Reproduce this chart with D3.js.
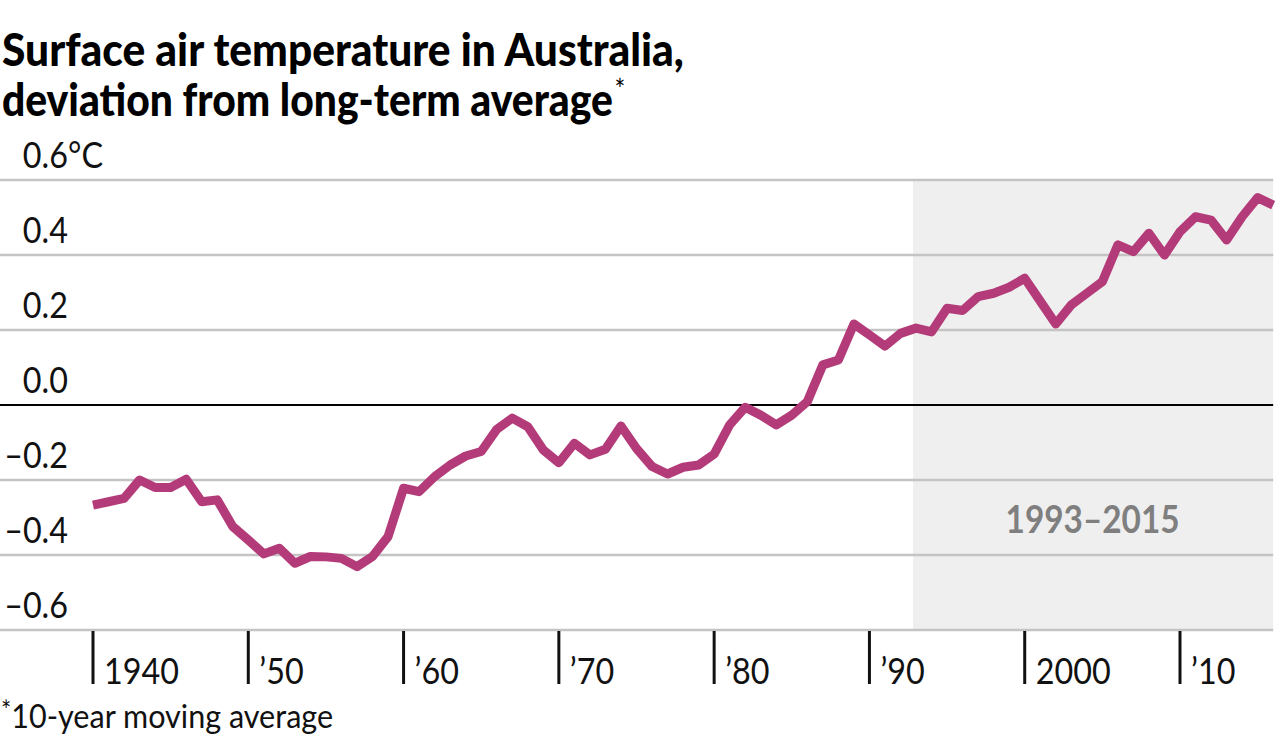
<!DOCTYPE html>
<html>
<head>
<meta charset="utf-8">
<script src="https://cdn.jsdelivr.net/npm/d3@7"></script>
<style>
  html, body { margin: 0; padding: 0; background: #fff; }
  svg { display: block; }
  text { font-family: Lato, "Open Sans", sans-serif; }
</style>
</head>
<body>
<svg id="chart" width="1280" height="741"></svg>
<script>
// ---- data ----
const years = d3.range(1940, 2017);
const anomaly = [
  -0.267, -0.258, -0.249, -0.200, -0.220, -0.220, -0.198, -0.258, -0.253, -0.324,
  -0.360, -0.397, -0.382, -0.422, -0.404, -0.405, -0.409, -0.431, -0.404, -0.351,
  -0.222, -0.231, -0.191, -0.160, -0.136, -0.124, -0.065, -0.035, -0.058, -0.120,
  -0.154, -0.102, -0.133, -0.118, -0.056, -0.116, -0.164, -0.184, -0.166, -0.160,
  -0.131, -0.053, -0.006, -0.027, -0.053, -0.027,  0.009,  0.107,  0.120,  0.216,
   0.187,  0.157,  0.191,  0.205,  0.195,  0.258,  0.252,  0.289,  0.298,  0.314,
   0.338,  0.277,  0.216,  0.267,  0.298,  0.329,  0.427,  0.409,  0.458,  0.400,
   0.462,  0.502,  0.493,  0.440,  0.502,  0.553,  0.533
];
const yTicks = [0.6, 0.4, 0.2, 0.0, -0.2, -0.4, -0.6];
const yTickLabels = ["0.6", "0.4", "0.2", "0.0", "\u20130.2", "\u20130.4", "\u20130.6"];
const xTicks = [1940, 1950, 1960, 1970, 1980, 1990, 2000, 2010];
const xTickLabels = ["1940", "\u201950", "\u201960", "\u201970", "\u201980", "\u201990", "2000", "\u201910"];
const highlight = [1993, 2016];
const highlightLabel = "1993\u20132015";
const titleLines = ["Surface air temperature in Australia,", "deviation from long-term average"];
const footnote = "10-year moving average";

// ---- scales ----
const x = d3.scaleLinear().domain([1940, 2010]).range([93, 1180]);
const y = d3.scaleLinear().domain([-0.6, 0.6]).range([630, 180]);
const gridRight = x(2016);

const svg = d3.select("#chart");

// helper: condensed text via horizontal scale
function condText(parent, px, py, sx) {
  return parent.append("text")
    .attr("transform", `translate(${px},${py}) scale(${sx},1)`);
}
function measure(str, size, weight) {
  const tmp = svg.append("text").attr("font-size", size).attr("font-weight", weight || "normal").text(str);
  const w = tmp.node().getComputedTextLength();
  tmp.remove();
  return w;
}

const labelSize = 37;
const labelWeight = 400;
const labelSx = 75 / measure("1940", labelSize, labelWeight);

// highlight band
svg.append("rect")
  .attr("x", x(highlight[0]) - 3)
  .attr("y", y(0.6))
  .attr("width", x(highlight[1]) - x(highlight[0]) + 3)
  .attr("height", y(-0.6) - y(0.6))
  .attr("fill", "#efefef");

const hlSize = 38;
const hlSx = 174 / measure(highlightLabel, hlSize, "bold");
condText(svg, (x(highlight[0]) + x(highlight[1])) / 2 - 2, 533, hlSx)
  .attr("text-anchor", "middle")
  .attr("fill", "#7f7f7f")
  .attr("font-weight", "bold")
  .attr("font-size", hlSize)
  .text(highlightLabel);

// gridlines
svg.append("g").selectAll("line")
  .data(yTicks)
  .join("line")
  .attr("x1", 0).attr("x2", gridRight)
  .attr("y1", d => y(d)).attr("y2", d => y(d))
  .attr("stroke", d => d === 0 ? "#000" : "#c4c4c4")
  .attr("stroke-width", d => d === 0 ? 2.2 : 2.5);

// y labels
const yl = svg.append("g");
yTicks.forEach((d, i) => {
  condText(yl, 68, y(d) - 12, labelSx)
    .attr("text-anchor", "end")
    .attr("font-size", labelSize)
    .attr("font-weight", labelWeight)
    .attr("fill", "#111")
    .text(yTickLabels[i]);
});
condText(yl, 68, y(0.6) - 12, labelSx)
  .attr("font-size", labelSize)
  .attr("font-weight", labelWeight)
  .attr("fill", "#111")
  .text("\u00B0C");

// x axis ticks
const xa = svg.append("g");
xa.selectAll("line")
  .data(xTicks)
  .join("line")
  .attr("x1", d => x(d)).attr("x2", d => x(d))
  .attr("y1", y(-0.6) + 1).attr("y2", y(-0.6) + 54)
  .attr("stroke", "#111")
  .attr("stroke-width", 3);
xTicks.forEach((d, i) => {
  condText(xa, x(d) + 11, 684, labelSx)
    .attr("font-size", labelSize)
    .attr("font-weight", labelWeight)
    .attr("fill", "#111")
    .text(xTickLabels[i]);
});

// line
const line = d3.line()
  .x((d, i) => x(years[i]))
  .y(d => y(d));
svg.append("path")
  .datum(anomaly)
  .attr("d", line)
  .attr("fill", "none")
  .attr("stroke", "#b43b79")
  .attr("stroke-width", 9)
  .attr("stroke-linejoin", "round")
  .attr("stroke-linecap", "butt");

// title
const titleSize = 45;
const titleSx1 = 682 / measure(titleLines[0], titleSize, 900);
const titleSx2 = 611 / measure(titleLines[1], titleSize, 900);
const t = svg.append("g");
condText(t, 2, 66, titleSx1)
  .attr("font-size", titleSize).attr("font-weight", 900).attr("fill", "#000")
  .text(titleLines[0]);
const t2 = condText(t, 2, 116, titleSx2)
  .attr("font-size", titleSize).attr("font-weight", 900).attr("fill", "#000");
t2.append("tspan").text(titleLines[1]);
t2.append("tspan").attr("font-size", 28).attr("font-weight", "normal").attr("dx", 2).attr("dy", -16).text("*");

// footnote
const fnSize = 33;
const fnWeight = 400;
const fnSx = 322 / measure(footnote, fnSize, fnWeight);
const fn = condText(svg, 1, 728, fnSx)
  .attr("font-size", fnSize).attr("font-weight", fnWeight).attr("fill", "#111");
fn.append("tspan").attr("font-size", 26).attr("dy", -8).text("*");
fn.append("tspan").attr("dy", 8).text(footnote);
</script>
</body>
</html>
